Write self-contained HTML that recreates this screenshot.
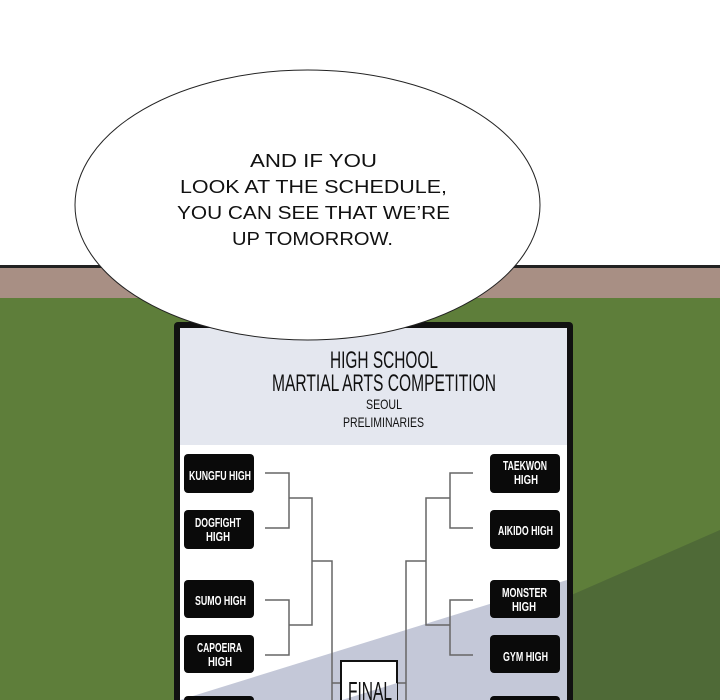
<!DOCTYPE html>
<html><head><style>
html,body{margin:0;padding:0;width:720px;height:700px;overflow:hidden;background:#fff}
svg{display:block}
.b{font-family:"Liberation Sans",sans-serif;font-weight:bold;fill:#fff;font-size:13px}
.h{font-family:"Liberation Sans",sans-serif;fill:#111}
.s{font-family:"Liberation Sans","DejaVu Sans",sans-serif;fill:#111;font-size:18px}
</style></head><body>
<svg width="720" height="700" viewBox="0 0 720 700" xmlns="http://www.w3.org/2000/svg">
<rect x="0" y="0" width="720" height="265" fill="#fff"/>
<rect x="0" y="265" width="720" height="3" fill="#222"/>
<rect x="0" y="268" width="720" height="30" fill="#a88f84"/>
<rect x="0" y="298" width="720" height="402" fill="#5e7e3a"/>
<polygon points="720,530 560,600 560,700 720,700" fill="#4f6a37"/>
<rect x="174" y="322" width="399" height="400" rx="4" fill="#111"/>
<rect x="180" y="328" width="387" height="117" fill="#e4e7ef"/>
<rect x="180" y="445" width="387" height="260" fill="#fff"/>
<polygon points="180,700 567,580 567,700" fill="#c4c8d8"/>
<g lengthAdjust="spacingAndGlyphs">
<text class="h" x="330" y="368" font-size="24" textLength="108" lengthAdjust="spacingAndGlyphs">HIGH SCHOOL</text>
<text class="h" x="272" y="391" font-size="24" textLength="224" lengthAdjust="spacingAndGlyphs">MARTIAL ARTS COMPETITION</text>
<text class="h" x="366" y="409" font-size="14" textLength="36" lengthAdjust="spacingAndGlyphs">SEOUL</text>
<text class="h" x="343" y="427" font-size="14" textLength="81" lengthAdjust="spacingAndGlyphs">PRELIMINARIES</text>
</g>
<g fill="#0a0a0a">
<rect x="184" y="454" width="70" height="39" rx="4"/>
<rect x="184" y="510" width="70" height="39" rx="4"/>
<rect x="184" y="580" width="70" height="38" rx="4"/>
<rect x="184" y="635" width="70" height="38" rx="4"/>
<rect x="184" y="696" width="70" height="20" rx="4"/>
<rect x="490" y="454" width="70" height="39" rx="4"/>
<rect x="490" y="510" width="70" height="39" rx="4"/>
<rect x="490" y="580" width="70" height="38" rx="4"/>
<rect x="490" y="635" width="70" height="38" rx="4"/>
<rect x="490" y="696" width="70" height="20" rx="4"/>
</g>
<text class="b" x="189" y="480" textLength="62" lengthAdjust="spacingAndGlyphs">KUNGFU HIGH</text>
<text class="b" x="195" y="527" textLength="46" lengthAdjust="spacingAndGlyphs">DOGFIGHT</text>
<text class="b" x="206" y="541" textLength="24" lengthAdjust="spacingAndGlyphs">HIGH</text>
<text class="b" x="195" y="605" textLength="51" lengthAdjust="spacingAndGlyphs">SUMO HIGH</text>
<text class="b" x="197" y="652" textLength="45" lengthAdjust="spacingAndGlyphs">CAPOEIRA</text>
<text class="b" x="208" y="666" textLength="24" lengthAdjust="spacingAndGlyphs">HIGH</text>
<text class="b" x="503" y="470" textLength="44" lengthAdjust="spacingAndGlyphs">TAEKWON</text>
<text class="b" x="514" y="484" textLength="24" lengthAdjust="spacingAndGlyphs">HIGH</text>
<text class="b" x="498" y="535" textLength="55" lengthAdjust="spacingAndGlyphs">AIKIDO HIGH</text>
<text class="b" x="502" y="597" textLength="45" lengthAdjust="spacingAndGlyphs">MONSTER</text>
<text class="b" x="512" y="611" textLength="24" lengthAdjust="spacingAndGlyphs">HIGH</text>
<text class="b" x="503" y="661" textLength="45" lengthAdjust="spacingAndGlyphs">GYM HIGH</text>
<g stroke="#666" stroke-width="1.5" fill="none">
<path d="M265 473H289V528H265M289 498H312V625H289M265 600H289V655H265M312 561H332V700M332 683H341"/>
<path d="M473 473H450V528H473M450 498H426V625H450M473 600H450V655H473M426 561H406V700M406 683H397"/>
</g>
<rect x="341" y="661" width="56" height="45" fill="#fff" stroke="#111" stroke-width="2"/>
<polygon points="342,700 397,683 397,706 342,706" fill="#c4c8d8"/>
<text class="h" x="348" y="700" font-size="26" textLength="44" lengthAdjust="spacingAndGlyphs">FINAL</text>
<ellipse cx="307.5" cy="205" rx="232.5" ry="135" fill="#fff" stroke="#222" stroke-width="1"/>
<text class="s" x="250" y="167" textLength="127" lengthAdjust="spacingAndGlyphs">AND IF YOU</text>
<text class="s" x="180" y="193" textLength="267" lengthAdjust="spacingAndGlyphs">LOOK AT THE SCHEDULE,</text>
<text class="s" x="177" y="219" textLength="273" lengthAdjust="spacingAndGlyphs">YOU CAN SEE THAT WE’RE</text>
<text class="s" x="232" y="245" textLength="161" lengthAdjust="spacingAndGlyphs">UP TOMORROW.</text>
</svg>
</body></html>
